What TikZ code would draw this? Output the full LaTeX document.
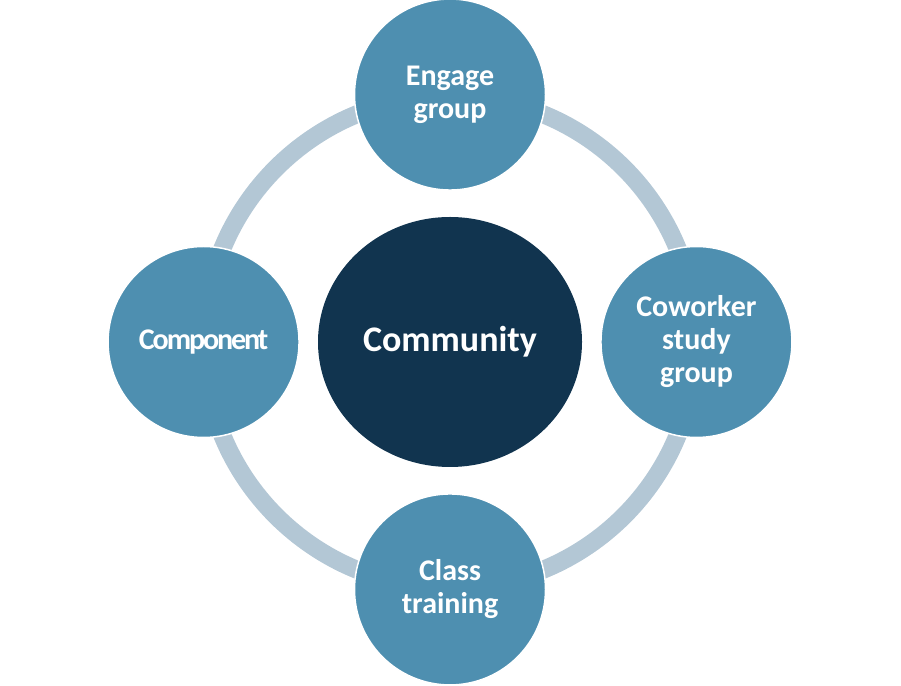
\documentclass[tikz,border=0pt]{standalone}
\usepackage{fontspec}
\setmainfont{Carlito}
\usetikzlibrary{shapes, positioning}

\definecolor{ringblue}{HTML}{B3C7D5}
\definecolor{spokeblue}{HTML}{4E8FB0}
\definecolor{hubblue}{HTML}{11344F}

\begin{document}
\begin{tikzpicture}[x=1pt,y=1pt,font=\bfseries,text=white]
	
	\tikzset{node hub/.style={ellipse, draw=none, fill=hubblue,
			minimum width=264pt, minimum height=250pt, inner sep=0pt,
			font=\fontsize{36}{42}\selectfont\bfseries},
		node spoke/.style={circle, draw=white, line width=1.5pt, fill=spokeblue,
			minimum size=191pt, inner sep=0pt, align=center,
			font=\fontsize{30}{33}\selectfont\bfseries},
		ring/.style={draw=ringblue, line width=18pt}}
	
	\useasboundingbox (0,0) rectangle (901,685);
	
	\node[node hub] (C) at (450,343) {Community};
	\draw[ring] (C.center) circle[radius=246pt];
	
	\node[node spoke, above=26pt of C] (E) {Engage\\group};
	\node[node spoke, below=26pt of C] (T) {Class\\training};
	\node[node spoke, left=18pt of C] (P) {\addfontfeature{LetterSpace=-7}Component};
	\node[node spoke, right=18pt of C] (W) {Coworker\\study\\group};
	
\end{tikzpicture}
\end{document}
